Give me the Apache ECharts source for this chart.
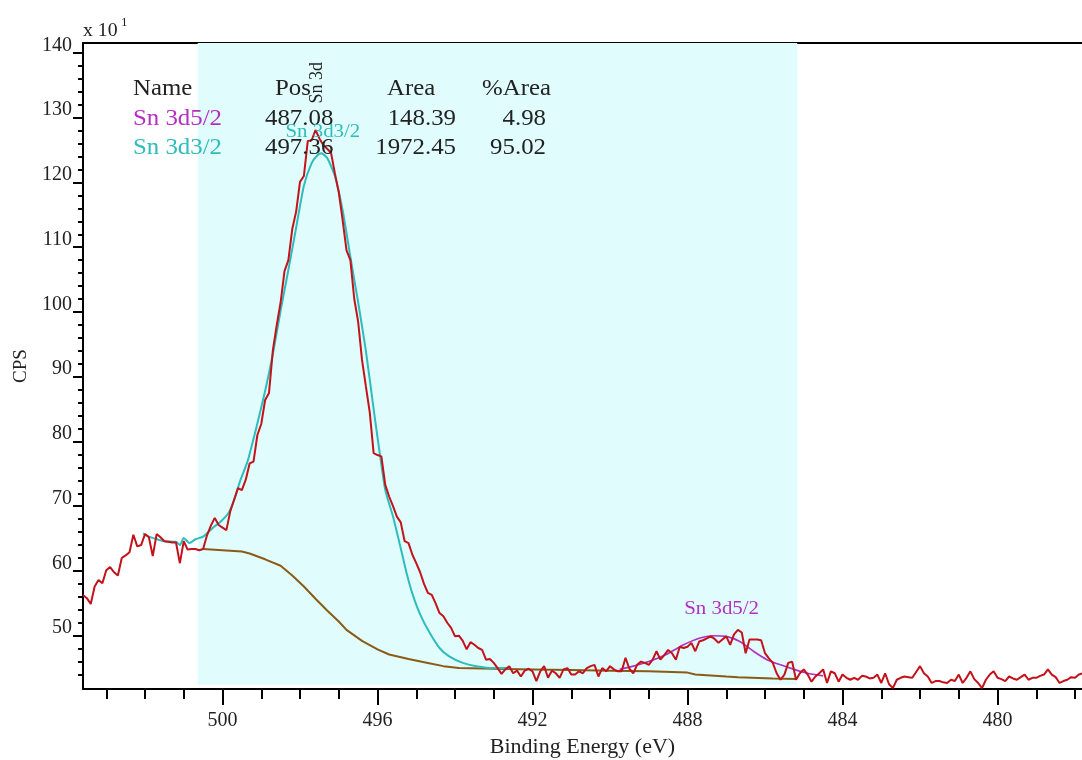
<!DOCTYPE html>
<html><head><meta charset="utf-8">
<script src="https://cdn.jsdelivr.net/npm/echarts@6/dist/echarts.min.js"></script>
<style>html,body{margin:0;padding:0;background:#fff}#c{width:1082px;height:760px}</style>
</head><body><div id="c"></div>
<script>
// ---- data (CPS in units of x10^1) ----
const energyStart = 503.6;   // first sample, eV
const energyStep = 0.1;      // spectrometer step, eV
const rawCounts = [
  56.3, 55.8, 54.9, 57.6, 58.6, 58.1, 60.1,
  60.6, 59.8, 59.3, 62.0, 62.4, 62.9, 65.6, 63.8, 64.0, 65.7,
  65.2, 62.3, 65.7, 65.2, 64.6, 64.5, 64.4, 64.4, 61.2, 64.6,
  63.3, 63.4, 63.4, 63.2, 63.4, 65.5, 67.0, 68.2, 67.1, 66.7,
  66.3, 69.2, 71.0, 72.8, 72.5, 74.1, 76.6, 76.9, 81.0, 82.7,
  86.4, 87.5, 94.1, 98.0, 101.5, 106.3, 108.0, 112.8, 115.5, 120.1,
  121.0, 126.4, 126.5, 128.1, 126.8, 125.8, 125.2, 124.6, 121.4, 118.5,
  114.2, 109.5, 108.0, 102.0, 98.5, 92.6, 88.5, 84.5, 78.2, 77.9,
  77.7, 73.3, 71.5, 70.0, 68.4, 67.5, 64.6, 64.3, 62.5, 61.2,
  59.8, 58.0, 56.6, 56.3, 55.0, 53.5, 53.0, 52.0, 51.2, 49.9,
  50.0, 49.2, 47.9, 49.0, 48.6, 48.1, 47.8, 46.3, 46.4, 45.8,
  45.0, 44.1, 44.8, 45.3, 44.2, 44.6, 43.7, 44.6, 44.9, 44.5,
  43.0, 44.5, 45.3, 43.5, 44.6, 44.2, 43.5, 44.8, 45.0, 44.0,
  44.0, 44.5, 44.2, 45.0, 45.3, 45.5, 43.7, 45.0, 44.5, 45.3,
  44.8, 44.5, 44.5, 46.6, 44.9, 44.2, 45.5, 46.0, 45.8, 45.5,
  46.3, 47.6, 46.3, 47.0, 47.8, 47.3, 46.3, 48.3, 48.1, 48.3,
  48.9, 47.6, 49.1, 49.3, 49.6, 49.9, 49.5, 48.9, 49.4, 49.9,
  48.6, 50.2, 50.9, 50.5, 47.3, 49.4, 49.4, 49.4, 49.3, 47.3,
  46.5, 45.8, 44.2, 43.2, 44.0, 45.8, 46.0, 43.2, 44.2, 44.8,
  44.0, 42.9, 43.7, 44.2, 44.8, 42.7, 44.5, 44.2, 42.9, 44.0,
  43.5, 43.2, 43.5, 43.2, 43.8, 43.7, 43.4, 43.5, 44.0, 42.7,
  44.2, 42.5, 41.9, 43.2, 43.5, 43.7, 43.6, 43.5, 44.4, 45.3,
  44.2, 43.7, 42.7, 43.0, 43.0, 42.8, 42.7, 43.2, 43.0, 44.0,
  42.7, 43.5, 44.5, 43.3, 42.7, 41.9, 43.2, 44.0, 44.5, 43.5,
  43.3, 43.0, 43.7, 43.4, 43.2, 43.6, 44.0, 43.2, 43.5, 43.5,
  43.8, 44.0, 44.8, 44.0, 43.6, 42.7, 43.0, 43.2, 43.6, 43.5,
  44.0, 44.2
];
const backgroundPts = [
  [500.5,63.4],[500.0,63.2],[499.5,63.0],[499.3,62.7],[498.9,61.8],[498.5,60.8],
  [498.2,59.3],[497.9,57.6],[497.6,55.7],[497.3,53.9],[497.0,52.2],[496.8,50.9],
  [496.4,49.2],[496.0,47.9],[495.7,47.1],[495.2,46.4],[494.7,45.8],[494.3,45.3],
  [493.9,45.0],[493.0,44.9],[492.0,44.8],[491.0,44.7],[490.0,44.6],[489.0,44.5],
  [488.0,44.3],[487.8,44.0],[487.0,43.7],[486.7,43.6],[485.8,43.4],[485.2,43.3]
];
const envelope3d3 = [
  [502.05,65.8],[501.9,65.3],[501.75,65.0],[501.5,64.6],[501.2,64.5],[501.1,64.0],
  [501.0,65.1],[500.85,64.3],[500.7,64.9],[500.5,65.3],[500.35,66.1],[500.2,66.9],
  [500.05,67.6],[499.85,68.9],[499.7,71.0],[499.55,73.8],[499.35,77.0],[499.12,82.3],
  [498.9,87.8],[498.7,93.5],[498.5,100.2],[498.3,106.5],[498.1,113.0],[497.9,119.5],
  [497.7,123.0],[497.55,124.2],[497.45,124.5],[497.3,123.8],[497.1,121.0],[496.9,115.7],
  [496.7,108.5],[496.5,101.5],[496.3,94.0],[496.1,85.0],[495.95,78.5],[495.8,72.5],
  [495.6,68.4],[495.4,63.5],[495.25,59.7],[495.1,56.5],[494.9,53.3],[494.65,50.4],
  [494.4,48.1],[494.15,46.8],[493.8,45.8],[493.45,45.3],[493.0,45.0],[492.6,45.0]
];
const envelope3d5 = [
  [489.75,44.8],[489.4,45.3],[489.0,46.0],[488.55,47.1],[488.1,48.6],[487.7,49.6],
  [487.35,50.0],[487.0,49.9],[486.65,49.1],[486.3,47.6],[485.95,46.3],[485.6,45.5],
  [485.25,44.8],[484.9,44.2],[484.5,43.8]
];
const regionRange = [500.64, 485.17];
const xRange = [477.82, 503.6];
const yRange = [41.77, 141.54];
const xMajorTicks = [500, 496, 492, 488, 484, 480];
const xMinorTicks = [503, 502, 501, 499, 498, 497, 495, 494, 493, 491, 490, 489, 487, 486, 485, 483, 482, 481, 479, 478];
const yMajorTicks = [50, 60, 70, 80, 90, 100, 110, 120, 130, 140];
const yMinorTicks = [44, 46, 48, 52, 54, 56, 58, 62, 64, 66, 68, 72, 74, 76, 78, 82, 84, 86, 88,
  92, 94, 96, 98, 102, 104, 106, 108, 112, 114, 116, 118, 122, 124, 126, 128, 132, 134, 136, 138];
const tableHeader = ['Name', 'Pos', 'Area', '%Area'];
const peakNames = ['Sn 3d5/2', 'Sn 3d3/2'];
const peakPos = ['487.08', '497.36'];
const peakArea = ['148.39', '1972.45'];
const peakPct = ['4.98', '95.02'];
const peakLabelAnchors = { main: [497.55, 135.4], d32: [497.41, 127.85], d52: [487.12, 54.17] };

// ---- colours / fonts ----
const SERIF = "'Liberation Serif','DejaVu Serif',serif";
const C_RAW = '#c4121a', C_D32 = '#2fbcbc', C_D52 = '#b22fc2', C_BG = '#8a5a16', C_REGION = '#e0fcfc';

const rawData = rawCounts.map((v, i) => [+(energyStart - i * energyStep).toFixed(2), v]);

const chart = echarts.init(document.getElementById('c'), null, { renderer: 'canvas' });

function xAxisBase(extra) {
  return Object.assign({
    type: 'value', inverse: true, min: xRange[0], max: xRange[1],
    splitLine: { show: false }, axisLine: { show: false, onZero: false },
    axisTick: { show: false }, axisLabel: { show: false }
  }, extra);
}
function yAxisBase(extra) {
  return Object.assign({
    type: 'value', min: yRange[0], max: yRange[1],
    splitLine: { show: false }, axisLine: { show: false, onZero: false },
    axisTick: { show: false }, axisLabel: { show: false }
  }, extra);
}
const tickStyle = { color: '#000', width: 2 };

chart.setOption({
  animation: false,
  backgroundColor: '#fff',
  grid: { left: 83, right: 0, top: 43, bottom: 71, containLabel: false, outerBoundsMode: 'none' },
  xAxis: [
    xAxisBase({
      position: 'bottom',
      axisLine: { show: true, onZero: false, lineStyle: { color: '#000', width: 2 } },
      axisLabel: { show: true, customValues: xMajorTicks, margin: 22, fontFamily: SERIF, fontSize: 20, color: '#222' },
      name: 'Binding Energy (eV)', nameLocation: 'middle', nameGap: 46,
      nameTextStyle: { fontFamily: SERIF, fontSize: 22, color: '#222' }
    }),
    xAxisBase({ position: 'bottom', axisTick: { show: true, length: 16, customValues: xMajorTicks, lineStyle: tickStyle } }),
    xAxisBase({ position: 'bottom', axisTick: { show: true, length: 10, customValues: xMinorTicks, lineStyle: tickStyle } }),
    xAxisBase({ position: 'top', axisLine: { show: true, onZero: false, lineStyle: { color: '#000', width: 2 } } })
  ],
  yAxis: [
    yAxisBase({
      position: 'left',
      axisLine: { show: true, onZero: false, lineStyle: { color: '#000', width: 2 } },
      axisLabel: { show: true, customValues: yMajorTicks, margin: 11, fontFamily: SERIF, fontSize: 20, color: '#222',
        verticalAlign: 'bottom', lineHeight: 15 },
      name: 'CPS', nameLocation: 'middle', nameGap: 52,
      nameTextStyle: { fontFamily: SERIF, fontSize: 19, color: '#222' }
    }),
    yAxisBase({ position: 'left', axisTick: { show: true, length: 10, customValues: yMajorTicks, lineStyle: tickStyle } }),
    yAxisBase({ position: 'left', axisTick: { show: true, length: 5, customValues: yMinorTicks, lineStyle: tickStyle } })
  ],
  series: [
    {
      name: 'region', type: 'line', data: [], z: 1, silent: true,
      markArea: {
        silent: true,
        itemStyle: { color: C_REGION },
        data: [[{ xAxis: regionRange[0], yAxis: 42.44 }, { xAxis: regionRange[1], yAxis: 'max' }]]
      }
    },
    { name: 'Background', type: 'line', data: backgroundPts, showSymbol: false, z: 3,
      lineStyle: { color: C_BG, width: 2 } },
    { name: 'Sn 3d3/2', type: 'line', data: envelope3d3, showSymbol: false, z: 4, smooth: 0.2,
      lineStyle: { color: C_D32, width: 2 } },
    { name: 'Sn 3d5/2', type: 'line', data: envelope3d5, showSymbol: false, z: 4, smooth: 0.2,
      lineStyle: { color: C_D52, width: 1.6 } },
    { name: 'Raw', type: 'line', data: rawData, showSymbol: false, z: 5,
      lineStyle: { color: C_RAW, width: 2 } }
  ]
});

// ---- text annotations (anchored through the chart's scales) ----
function px(pt) { return chart.convertToPixel({ xAxisIndex: 0, yAxisIndex: 0 }, pt); }
function txt(x, y, text, color, size, align, sx, extra) {
  return Object.assign({
    type: 'text', x: x, y: y, scaleX: sx || 1, z: 100,
    style: { text: text, fill: color, font: size + 'px ' + SERIF, textAlign: align || 'left', textVerticalAlign: 'middle' }
  }, extra || {});
}
const T = 23, SX = 1.08;
const rowY = [89, 118.5, 147.5];
const elems = [
  txt(83, 31, 'x 10', '#222', 18, 'left', 1.1),
  txt(121, 23, '1', '#222', 12, 'left', 1.1),
  txt(133, rowY[0], tableHeader[0], '#222', T, 'left', SX),
  txt(275, rowY[0], tableHeader[1], '#222', T, 'left', SX),
  txt(387, rowY[0], tableHeader[2], '#222', T, 'left', SX),
  txt(482, rowY[0], tableHeader[3], '#222', T, 'left', SX)
];
const nameColors = [C_D52, C_D32];
for (let i = 0; i < peakNames.length; i++) {
  elems.push(txt(133, rowY[i + 1], peakNames[i], nameColors[i], T, 'left', SX));
  elems.push(txt(265, rowY[i + 1], peakPos[i], '#222', T, 'left', SX));
  elems.push(txt(456, rowY[i + 1], peakArea[i], '#222', T, 'right', SX));
  elems.push(txt(546, rowY[i + 1], peakPct[i], '#222', T, 'right', SX));
}
const pMain = px(peakLabelAnchors.main), p32 = px(peakLabelAnchors.d32), p52 = px(peakLabelAnchors.d52);
elems.push(Object.assign(txt(pMain[0], pMain[1], 'Sn 3d', '#222', 18, 'center', 1), { rotation: Math.PI / 2 }));
elems.push(txt(p32[0], p32[1], 'Sn 3d3/2', C_D32, 19, 'center', 1.1));
elems.push(txt(p52[0], p52[1], 'Sn 3d5/2', C_D52, 19, 'center', 1.1));
chart.setOption({ graphic: { elements: elems } });
</script>
</body></html>
